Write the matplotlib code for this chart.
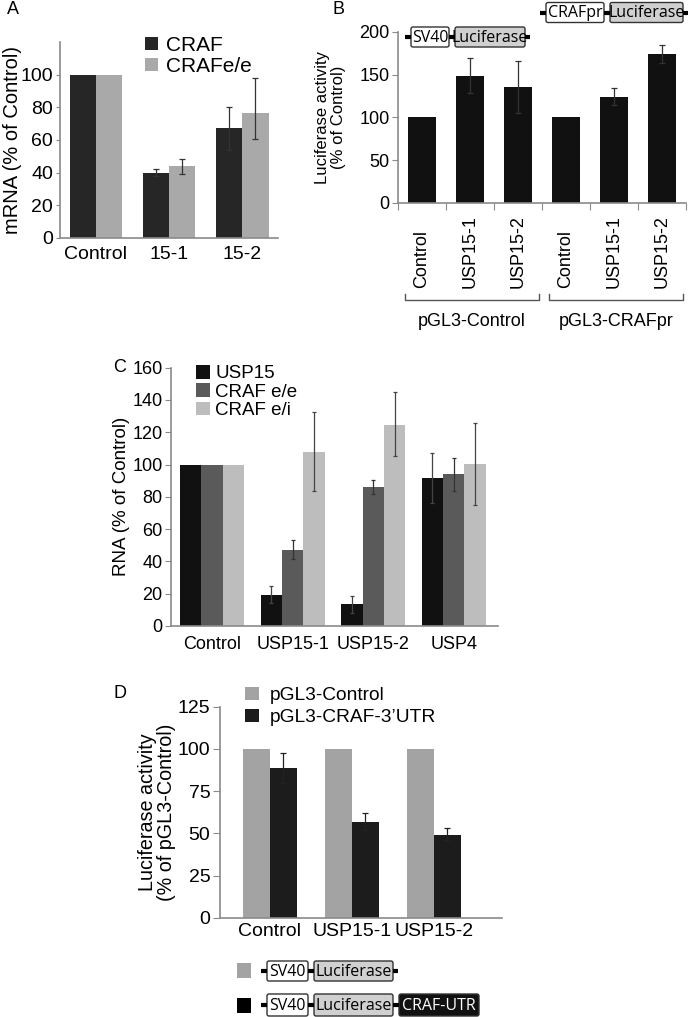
import matplotlib.pyplot as plt
from matplotlib.patches import FancyBboxPatch, Rectangle

plt.rcParams['font.family'] = ['Liberation Sans', 'DejaVu Sans']
plt.rcParams['font.size'] = 13

# ---- panel A data
a_cats = ['Control', '15-1', '15-2']
a_craf = [100, 40, 67.1]
a_craf_lo = [None, 2, 13.2]
a_craf_hi = [None, 2.5, 13.3]
a_crafee = [100, 43.9, 76.5]
a_crafee_lo = [None, 4.5, 15.7]
a_crafee_hi = [None, 4.7, 21.7]

# ---- panel B data
b_cats = ['Control', 'USP15-1', 'USP15-2', 'Control', 'USP15-1', 'USP15-2']
b_vals = [100, 148, 135, 100, 124, 174]
b_lo = [None, 20, 30, None, 10, 11]
b_hi = [None, 21, 31, None, 10, 11]
b_groups = ['pGL3-Control', 'pGL3-CRAFpr']

# ---- panel C data
c_cats = ['Control', 'USP15-1', 'USP15-2', 'USP4']
c_usp15 = [100, 19.4, 13.4, 91.7]
c_usp15_lo = [None, 5.4, 5.6, 15.7]
c_usp15_hi = [None, 5.3, 5.2, 15.7]
c_ee = [100, 47.2, 86, 94]
c_ee_lo = [None, 5.6, 4.4, 10.6]
c_ee_hi = [None, 6, 4.5, 10.3]
c_ei = [100, 108, 124.7, 100.2]
c_ei_lo = [None, 24.1, 19.7, 25.2]
c_ei_hi = [None, 24.6, 20, 25.4]

# ---- panel D data
d_cats = ['Control', 'USP15-1', 'USP15-2']
d_ctrl = [100, 100, 100]
d_utr = [88.8, 56.8, 49.3]
d_utr_lo = [8.9, 4.9, 3.3]
d_utr_hi = [9, 5.3, 4]

SPINE = '#8a8a8a'


def style(ax, ylab, labx, xpad, ylen, fs=13, lfs=13):
    for s in ['top', 'right']:
        ax.spines[s].set_visible(False)
    for s in ['left', 'bottom']:
        ax.spines[s].set_color(SPINE)
        ax.spines[s].set_linewidth(1.2)
    ax.tick_params(axis='x', length=0, pad=xpad, labelsize=fs)
    ax.tick_params(axis='y', length=ylen, color=SPINE, pad=2, labelsize=fs)
    ax.set_ylabel(ylab, va='center', ha='center', linespacing=1.05, fontsize=lfs)
    ax.yaxis.set_label_coords(labx, 0.5)


def errbars(ax, x, y, lo, hi, color='#333333', cap=2):
    idx = [i for i in range(len(y)) if lo[i] is not None]
    ax.errorbar([x[i] for i in idx], [y[i] for i in idx],
                yerr=[[lo[i] for i in idx], [hi[i] for i in idx]],
                fmt='none', ecolor=color, elinewidth=0.9, capsize=cap,
                capthick=0.9, zorder=3)


fig = plt.figure(figsize=(6.93, 10.17), dpi=100)

# ---------------- A
axA = fig.add_axes([0.0866, 0.766, 0.3146, 0.1927])
xa = list(range(len(a_cats)))
w = 0.36
xa1 = [x - w / 2 for x in xa]
xa2 = [x + w / 2 for x in xa]
axA.bar(xa1, a_craf, w, color='#262626', label='CRAF')
axA.bar(xa2, a_crafee, w, color='#a9a9a9', label='CRAFe/e')
errbars(axA, xa1, a_craf, a_craf_lo, a_craf_hi)
errbars(axA, xa2, a_crafee, a_crafee_lo, a_crafee_hi)
axA.set_xlim(-0.49, 2.49)
axA.set_ylim(0, 120)
axA.set_yticks(range(0, 101, 20))
axA.set_xticks(xa)
axA.set_xticklabels(a_cats)
style(axA, 'mRNA (% of Control)', -0.218, 6, 3, fs=14, lfs=14.5)
axA.legend(loc='upper left', bbox_to_anchor=(0.39, 1.03), frameon=False,
           handlelength=0.6, handleheight=0.6, handletextpad=0.4,
           labelspacing=0.1, borderaxespad=0, borderpad=0, fontsize=15)

# ---------------- B
axB = fig.add_axes([0.5743, 0.8004, 0.4156, 0.1684])
xb = list(range(len(b_cats)))
axB.bar(xb, b_vals, 0.6, color='#111111')
errbars(axB, xb, b_vals, b_lo, b_hi)
axB.set_xlim(-0.5, len(b_cats) - 0.5)
axB.set_ylim(0, 200)
axB.set_yticks(range(0, 201, 50))
axB.set_xticks([x - 0.5 for x in range(len(b_cats) + 1)])
axB.set_xticklabels([])
style(axB, 'Luciferase activity\n(% of Control)', -0.235, 6, 4, lfs=12)
axB.tick_params(axis='x', length=5, color=SPINE, direction='out')
tb = axB.get_xaxis_transform()
for x, lab in zip(xb, b_cats):
    axB.text(x, -0.496, lab, rotation=90, ha='center', va='bottom',
             transform=tb)
for g, name in enumerate(b_groups):
    x0 = g * 3 - 0.35
    x1 = g * 3 + 2.44
    axB.plot([x0, x0, x1, x1], [-0.531, -0.566, -0.566, -0.531],
             color='#555555', lw=1, transform=tb, clip_on=False)
    axB.text((x0 + x1) / 2, -0.69, name, ha='center', va='center',
             transform=tb)

# ---------------- C
axC = fig.add_axes([0.2468, 0.3845, 0.4719, 0.254])
xc = list(range(len(c_cats)))
wc = 0.265
xc1 = [x - wc for x in xc]
xc3 = [x + wc for x in xc]
axC.bar(xc1, c_usp15, wc, color='#111111', label='USP15')
axC.bar(xc, c_ee, wc, color='#5a5a5a', label='CRAF e/e')
axC.bar(xc3, c_ei, wc, color='#bdbdbd', label='CRAF e/i')
errbars(axC, xc1, c_usp15, c_usp15_lo, c_usp15_hi, '#444444', 1.5)
errbars(axC, xc, c_ee, c_ee_lo, c_ee_hi, '#333333', 1.5)
errbars(axC, xc3, c_ei, c_ei_lo, c_ei_hi, '#444444', 1.5)
axC.set_xlim(-0.51, 3.55)
axC.set_ylim(0, 160)
axC.set_yticks(range(0, 161, 20))
axC.set_xticks(xc)
axC.set_xticklabels(c_cats)
style(axC, 'RNA (% of Control)', -0.15, 7, 4, lfs=13.5)
axC.legend(loc='upper left', bbox_to_anchor=(0.075, 1.01), frameon=False,
           handlelength=0.75, handleheight=0.75, handletextpad=0.3,
           labelspacing=0.05, borderaxespad=0, borderpad=0, fontsize=13.5)

# ---------------- D
axD = fig.add_axes([0.3175, 0.0976, 0.4065, 0.2075])
xd = list(range(len(d_cats)))
wd = 0.327
xd1 = [x - wd / 2 for x in xd]
xd2 = [x + wd / 2 for x in xd]
axD.bar(xd1, d_ctrl, wd, color='#a3a3a3', label='pGL3-Control')
axD.bar(xd2, d_utr, wd, color='#1c1c1c', label='pGL3-CRAF-3\u2019UTR')
errbars(axD, xd2, d_utr, d_utr_lo, d_utr_hi, '#222222', 2.5)
axD.set_xlim(-0.61, 2.83)
axD.set_ylim(0, 125)
axD.set_yticks(range(0, 126, 25))
axD.set_xticks(xd)
axD.set_xticklabels(d_cats)
style(axD, 'Luciferase activity\n(% of pGL3-Control)', -0.224, 4, 5, fs=14, lfs=14.2)
axD.legend(loc='upper left', bbox_to_anchor=(0.09, 1.095), frameon=False,
           handlelength=0.7, handleheight=0.7, handletextpad=0.6,
           labelspacing=0.25, borderaxespad=0, borderpad=0, fontsize=13.8)

# ---------------- overlay: panel letters and constructs (pixel coords)
ov = fig.add_axes([0, 0, 1, 1])
ov.set_xlim(0, 693)
ov.set_ylim(1017, 0)
ov.axis('off')

for lab, x, y in [('A', 13, 10), ('B', 338, 10), ('C', 120, 367), ('D', 120, 693)]:
    ov.text(x, y, lab, ha='center', va='center', fontsize=13)


def construct(x, yc, parts, lead=6, tail=5, h=20):
    # parts: (text, face, textcolor, width)
    pos = x
    ov.plot([pos, pos + lead], [yc, yc], color='black', lw=3, solid_capstyle='butt')
    pos += lead
    for i, (txt, fc, tc, wid) in enumerate(parts):
        if i > 0:
            ov.plot([pos, pos + 6], [yc, yc], color='black', lw=3, solid_capstyle='butt')
            pos += 6
        ov.add_patch(FancyBboxPatch((pos, yc - h / 2), wid, h,
                                    boxstyle='round,pad=0,rounding_size=2',
                                    fc=fc, ec='#333333', lw=1))
        ov.text(pos + wid / 2, yc + 0.5, txt, ha='center', va='center',
                fontsize=11.5, color=tc, family=['Open Sans', 'DejaVu Sans'])
        pos += wid
    if tail:
        ov.plot([pos, pos + tail], [yc, yc], color='black', lw=3, solid_capstyle='butt')


construct(405, 37, [('SV40', 'white', 'black', 38), ('Luciferase', '#d0d0d0', 'black', 70)])
construct(540, 12.5, [('CRAFpr', 'white', 'black', 58), ('Luciferase', '#d0d0d0', 'black', 73)])
ov.add_patch(Rectangle((237, 963), 14, 15, fc='#a3a3a3', ec='none'))
construct(261, 971, [('SV40', 'white', 'black', 41), ('Luciferase', '#d0d0d0', 'black', 79)])
ov.add_patch(Rectangle((237, 998), 14, 15, fc='black', ec='none'))
construct(261, 1005, [('SV40', 'white', 'black', 41), ('Luciferase', '#d0d0d0', 'black', 79),
                      ('CRAF-UTR', '#111111', 'white', 80)], tail=0, h=22)

fig.savefig('out.png', dpi=100)
